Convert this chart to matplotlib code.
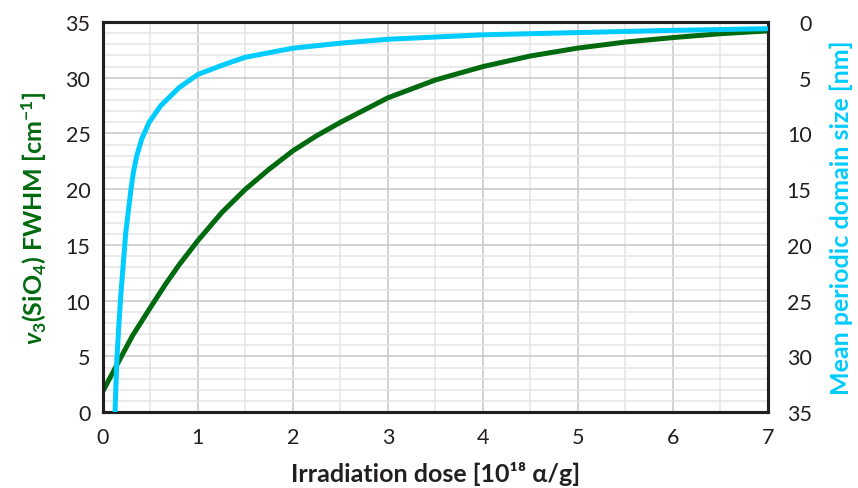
import matplotlib
matplotlib.use("Agg")
import matplotlib.pyplot as plt
from matplotlib.ticker import MultipleLocator

# FWHM of the v3(SiO4) band vs. dose (left axis)
dose_fwhm = [0, 0.15, 0.31, 0.5, 0.66, 0.8, 1.0, 1.25, 1.5, 1.75, 2.0, 2.25, 2.5, 2.75,
             3.0, 3.5, 4.0, 4.5, 5.0, 5.5, 6.0, 6.5, 7.0]
fwhm = [1.9, 4.3, 6.85, 9.4, 11.5, 13.2, 15.4, 17.9, 20.0, 21.8, 23.45, 24.8, 26.0, 27.1,
        28.2, 29.8, 31.0, 31.95, 32.66, 33.2, 33.6, 33.95, 34.2]

# mean periodic domain size vs. dose (right axis, inverted)
dose_dom = [0.127, 0.145, 0.165, 0.187, 0.24, 0.295, 0.32, 0.356, 0.408, 0.486, 0.609,
            0.8, 1.0, 1.28, 1.5, 2.0, 2.5, 3.0, 3.5, 4.0, 4.5, 5.0, 5.5, 6.0, 6.5, 7.0]
domain = [35, 30.5, 27.5, 24.6, 18.9, 15.0, 13.5, 12.0, 10.5, 9.0, 7.5,
          5.9, 4.7, 3.8, 3.16, 2.35, 1.9, 1.55, 1.35, 1.15, 1.05, 0.95, 0.85, 0.75, 0.68, 0.6]

green = "#006a0e"
blue = "#00ccff"
dark = "#231f20"

plt.rcParams['font.family'] = ['Lato', 'DejaVu Sans']
plt.rcParams['mathtext.fontset'] = 'custom'
plt.rcParams['mathtext.rm'] = 'Lato:bold'
plt.rcParams['mathtext.it'] = 'Lato:bold:italic'
plt.rcParams['mathtext.bf'] = 'Lato:bold'

fig = plt.figure(figsize=(8.58, 4.89), dpi=100)
ax = fig.add_axes([0.120, 0.155, 0.775, 0.798])
ax2 = ax.twinx()

# grid
ax.set_xlim(0, 7)
ax.set_ylim(0, 35)
ax.xaxis.set_major_locator(MultipleLocator(1))
ax.xaxis.set_minor_locator(MultipleLocator(0.5))
ax.yaxis.set_major_locator(MultipleLocator(5))
ax.yaxis.set_minor_locator(MultipleLocator(1))
ax.grid(which='major', color='#c6c6c6', lw=1.1)
ax.grid(which='minor', color='#e4e4e4', lw=1.1)
ax.set_axisbelow(True)

ax.plot(dose_fwhm, fwhm, color=green, lw=3.6, solid_joinstyle='round', solid_capstyle='butt', zorder=3)
ax2.plot(dose_dom, domain, color=blue, lw=3.6, solid_joinstyle='round', solid_capstyle='butt', zorder=3)

ax2.set_ylim(35, 0)
ax2.yaxis.set_major_locator(MultipleLocator(5))

for a in (ax, ax2):
    for s in a.spines.values():
        s.set_color(dark)
        s.set_linewidth(2.2)
ax.tick_params(which='both', length=0, labelsize=15.5, colors=dark)
ax.tick_params(axis='y', pad=9)
ax.tick_params(axis='x', pad=11)
ax2.tick_params(length=0, labelsize=15.5, colors=dark, pad=31.5)
for lbl in ax2.get_yticklabels():
    lbl.set_horizontalalignment('right')

ax.set_xlabel("Irradiation dose [10¹⁸ α/g]", fontsize=18, fontweight='bold', color=dark, labelpad=10)
ax.set_ylabel(r"$v_3$(SiO$_4$) FWHM [cm$^{-1}$]", fontsize=18, fontweight='bold', color=green, labelpad=12)
ax2.set_ylabel("Mean periodic domain size [nm]", fontsize=18, fontweight='bold', color=blue, labelpad=13)

fig.savefig("out.png", dpi=100)
